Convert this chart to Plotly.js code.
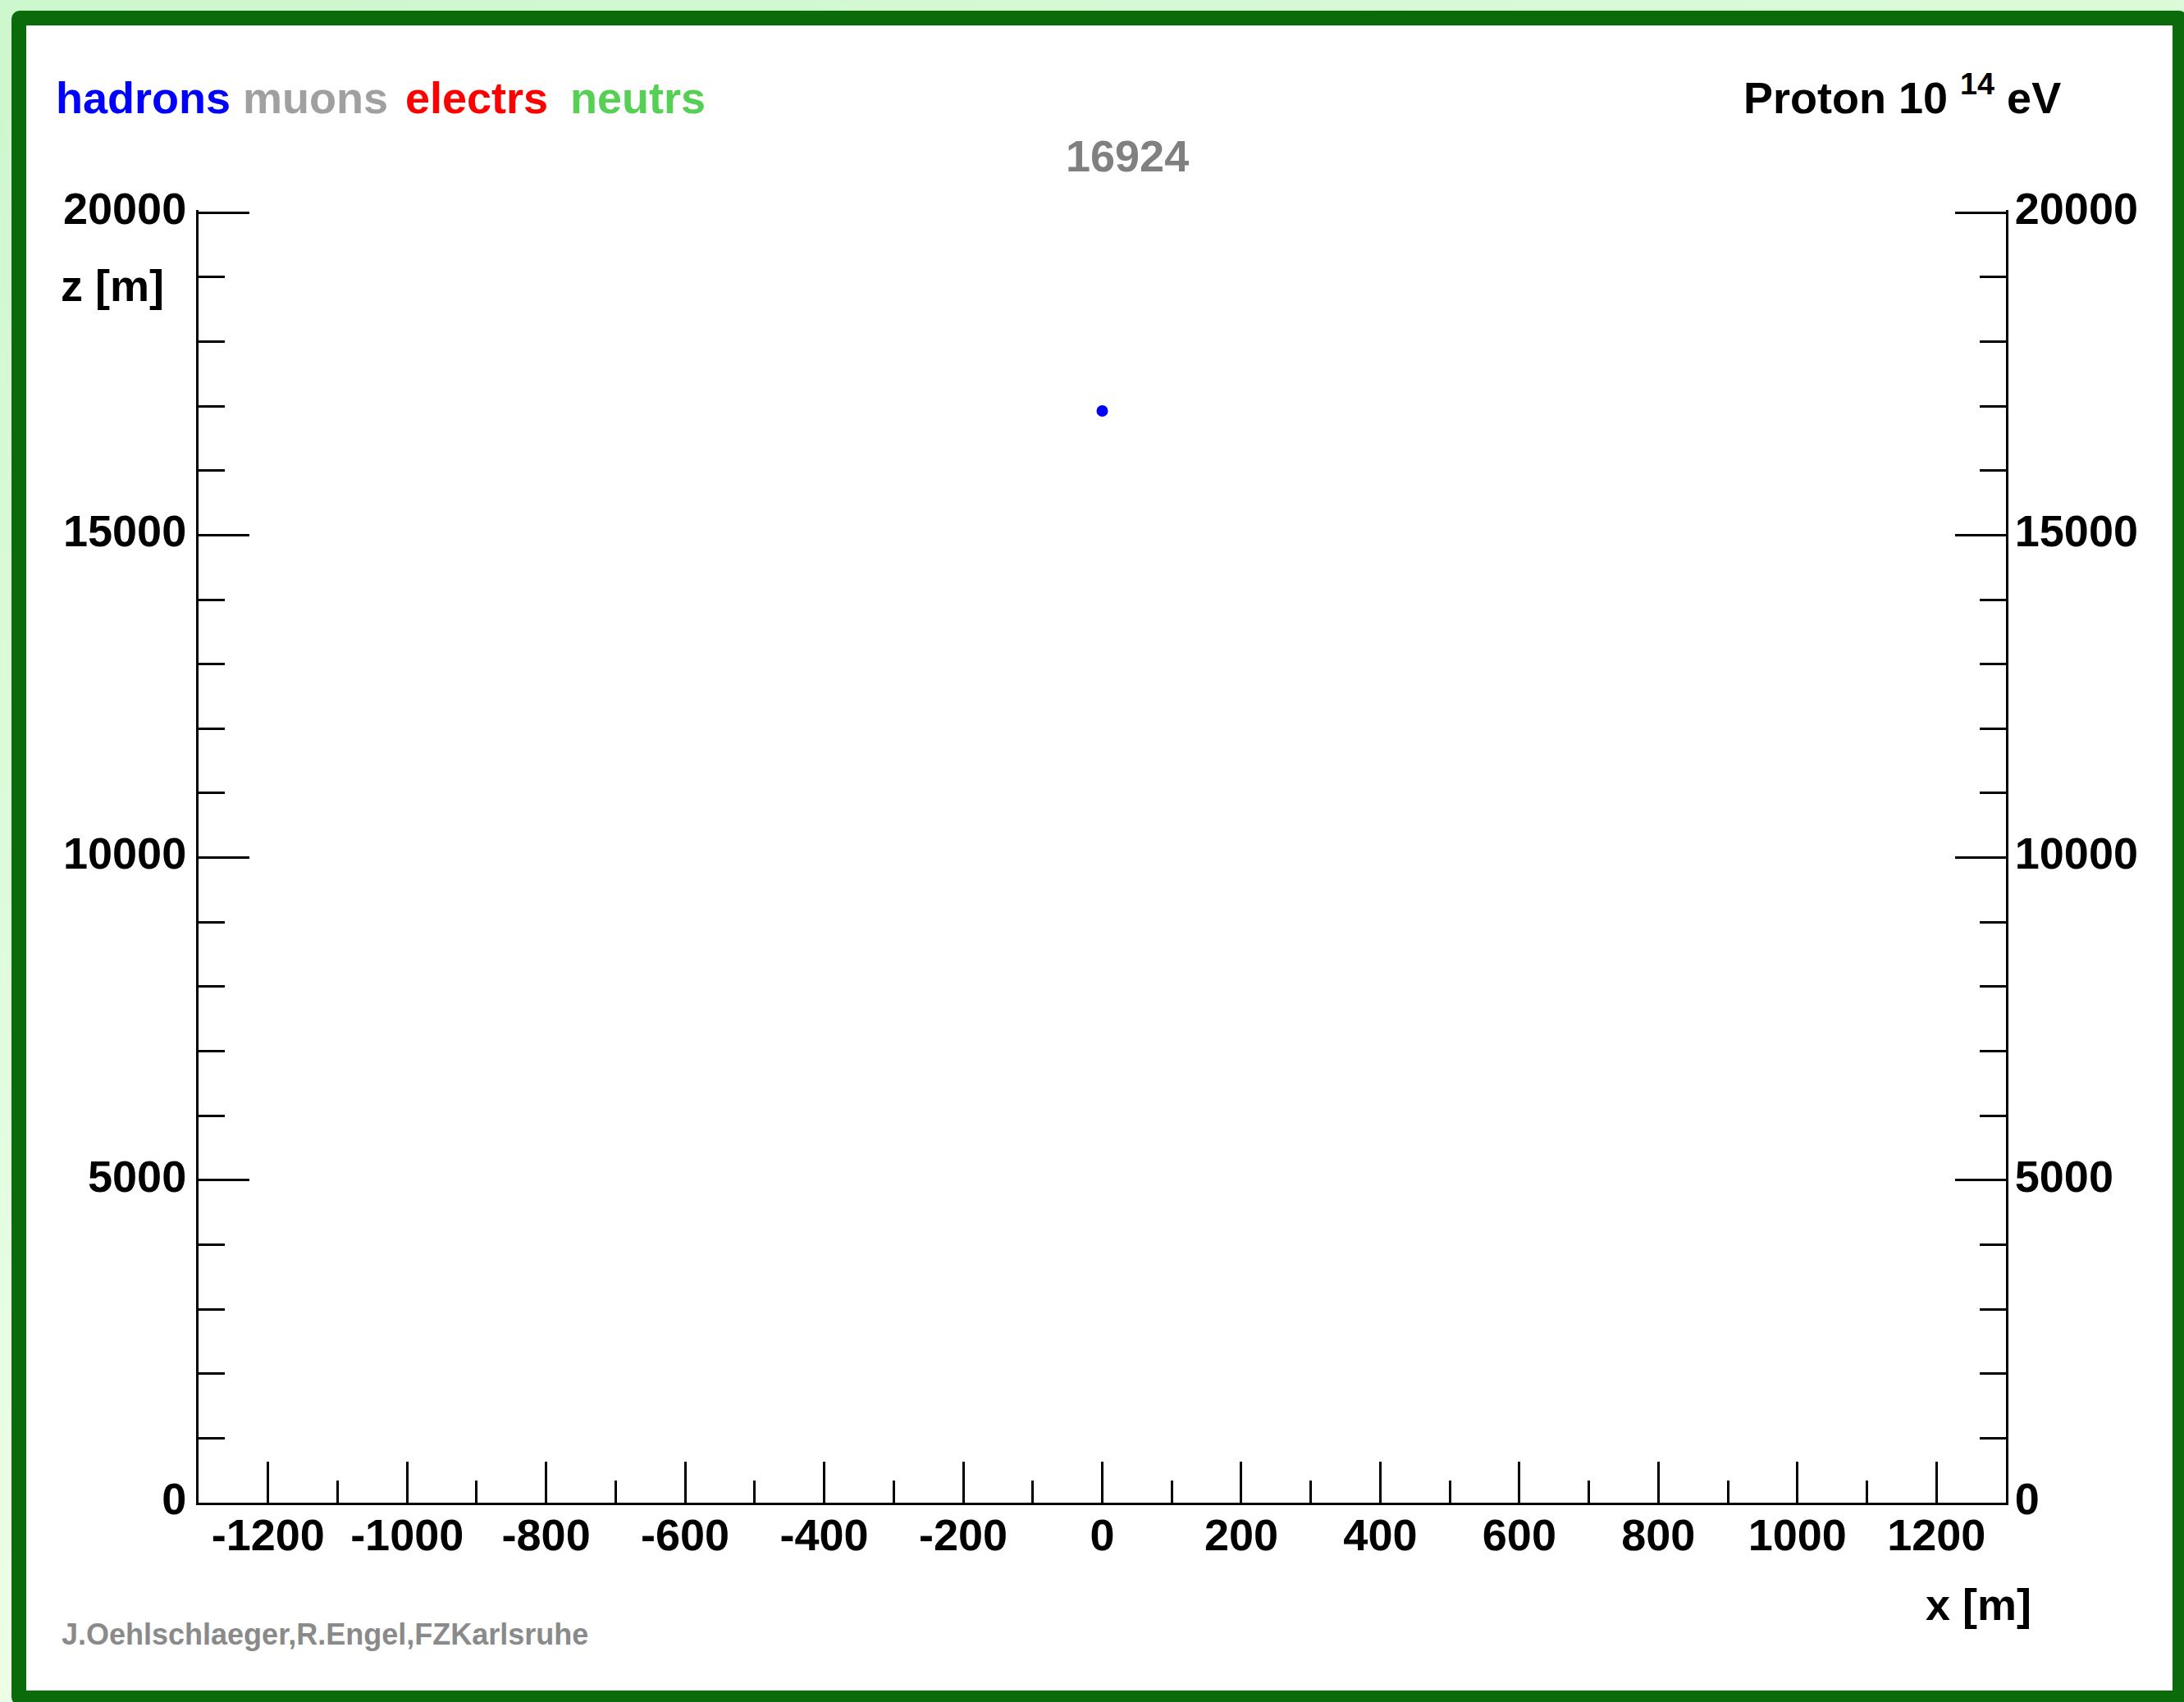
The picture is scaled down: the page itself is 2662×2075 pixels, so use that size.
<!DOCTYPE html>
<html>
<head>
<meta charset="utf-8">
<script src="https://cdn.plot.ly/plotly-3.0.1.min.js"></script>
<style>
  html, body { margin:0; padding:0; width:2662px; height:2075px; overflow:hidden; }
  body { background: linear-gradient(160deg, #cdf7cd 0%, #e4fde0 50%, #fffff0 100%); position:relative; }
  #frame { position:absolute; left:14px; top:13px; width:2652px; height:2066px; box-sizing:border-box;
           border:18px solid #0b6b0b; border-radius:10px; background:#ffffff; }
  #chart { position:absolute; left:0; top:0; width:2662px; height:2075px; }
</style>
</head>
<body>
<div id="frame"></div>
<div id="chart"></div>
<script>
// ---- data ----
var hadronsX = [0];
var hadronsZ = [16924];
var muonsX = [];
var muonsZ = [];
var electrsX = [];
var electrsZ = [];
var neutrsX = [];
var neutrsZ = [];
var eventTitle = "16924";
var speciesNames = ["hadrons", "muons", "electrs", "neutrs"];
var primaryLabel = "Proton 10 <sup>14</sup> eV";
var creditText = "J.Oehlschlaeger,R.Engel,FZKarlsruhe";
var xTickVals = [-1200, -1000, -800, -600, -400, -200, 0, 200, 400, 600, 800, 1000, 1200];
var xTickText = ["-1200", "-1000", "-800", "-600", "-400", "-200", "0", "200", "400", "600", "800", "1000", "1200"];
var zTickVals = [0, 5000, 10000, 15000, 20000];
var zTickText = ["0", "5000", "10000", "15000", "20000"];
var xRange = [-1300, 1300];
var zRange = [0, 20040];

// ---- layout geometry (pixels) ----
var W = 2662, H = 2075;
var L = 242, R = 2445, T = 256, B = 1832;
function px(x) { return (x - L) / (R - L); }
function py(y) { return (B - y) / (B - T); }

var FONT = "Liberation Sans, Arial, Helvetica, sans-serif";
var speciesColors = ["#0000ff", "#a0a0a0", "#ff0000", "#55d055"];

var traces = [
  {x: hadronsX, y: hadronsZ, type: "scatter", mode: "markers", name: speciesNames[0],
   marker: {color: speciesColors[0], size: 14}},
  {x: muonsX, y: muonsZ, type: "scatter", mode: "markers", name: speciesNames[1],
   marker: {color: speciesColors[1], size: 4}},
  {x: electrsX, y: electrsZ, type: "scatter", mode: "markers", name: speciesNames[2],
   marker: {color: speciesColors[2], size: 4}},
  {x: neutrsX, y: neutrsZ, type: "scatter", mode: "markers", name: speciesNames[3],
   marker: {color: speciesColors[3], size: 4}},
  {x: [xRange[0]], y: [zRange[0]], type: "scatter", mode: "markers", yaxis: "y2",
   marker: {opacity: 0}, hoverinfo: "skip", showlegend: false}
];

var tickFont = {family: FONT, size: 54, color: "#000", weight: "bold"};

var yCommon = {
  range: zRange, tickmode: "array", tickvals: zTickVals, ticktext: zTickText,
  ticks: "inside", ticklen: 62, tickwidth: 3, ticklabelshift: -5,
  tickcolor: "#000", showline: true, linewidth: 3, linecolor: "#000",
  showgrid: false, zeroline: false, tickfont: tickFont, fixedrange: true,
  minor: {dtick: 1000, tick0: 0, ticks: "inside", ticklen: 32, tickwidth: 3, tickcolor: "#000", showgrid: false}
};

var layout = {
  width: W, height: H, autosize: false,
  margin: {l: L, r: W - R, t: T, b: H - B, pad: 0},
  paper_bgcolor: "rgba(0,0,0,0)",
  plot_bgcolor: "#ffffff",
  showlegend: false,
  xaxis: {
    range: xRange, tickmode: "array", tickvals: xTickVals, ticktext: xTickText,
    ticks: "inside", ticklen: 50, tickwidth: 3,
    tickcolor: "#000", showline: true, linewidth: 3, linecolor: "#000", mirror: false,
    showgrid: false, zeroline: false, tickfont: tickFont, ticklabelstandoff: -10,
    minor: {dtick: 100, tick0: 0, ticks: "inside", ticklen: 27, tickwidth: 3, tickcolor: "#000", showgrid: false}
  },
  yaxis: Object.assign({}, yCommon, {side: "left", ticklabelstandoff: 1}),
  yaxis2: Object.assign({}, yCommon, {side: "right", overlaying: "y", ticklabelstandoff: -3}),
  annotations: [
    {text: eventTitle, xref: "paper", yref: "paper", x: px(1374), y: py(190), xanchor: "center", yanchor: "middle",
     showarrow: false, font: {family: FONT, size: 54, color: "#808080", weight: "bold"}},
    {text: speciesNames[0], xref: "paper", yref: "paper", x: px(66), y: py(119), xanchor: "left", yanchor: "middle",
     showarrow: false, font: {family: FONT, size: 54, color: speciesColors[0], weight: "bold"}},
    {text: speciesNames[1], xref: "paper", yref: "paper", x: px(294), y: py(119), xanchor: "left", yanchor: "middle",
     showarrow: false, font: {family: FONT, size: 54, color: speciesColors[1], weight: "bold"}},
    {text: speciesNames[2], xref: "paper", yref: "paper", x: px(492), y: py(119), xanchor: "left", yanchor: "middle",
     showarrow: false, font: {family: FONT, size: 54, color: speciesColors[2], weight: "bold"}},
    {text: speciesNames[3], xref: "paper", yref: "paper", x: px(693), y: py(119), xanchor: "left", yanchor: "middle",
     showarrow: false, font: {family: FONT, size: 54, color: speciesColors[3], weight: "bold"}},
    {text: primaryLabel, xref: "paper", yref: "paper", x: px(2514), y: py(151), xanchor: "right", yanchor: "bottom",
     showarrow: false, font: {family: FONT, size: 54, color: "#000", weight: "bold"}},
    {text: "z [m]", xref: "paper", yref: "paper", x: px(72), y: py(348), xanchor: "left", yanchor: "middle",
     showarrow: false, font: {family: FONT, size: 54, color: "#000", weight: "bold"}},
    {text: "x [m]", xref: "paper", yref: "paper", x: px(2478), y: py(1956), xanchor: "right", yanchor: "middle",
     showarrow: false, font: {family: FONT, size: 54, color: "#000", weight: "bold"}},
    {text: creditText, xref: "paper", yref: "paper", x: px(73), y: py(1992), xanchor: "left", yanchor: "middle",
     showarrow: false, font: {family: FONT, size: 36, color: "#8a8a8a", weight: "bold"}}
  ]
};

Plotly.newPlot("chart", traces, layout, {staticPlot: true, displayModeBar: false});
</script>
</body>
</html>
